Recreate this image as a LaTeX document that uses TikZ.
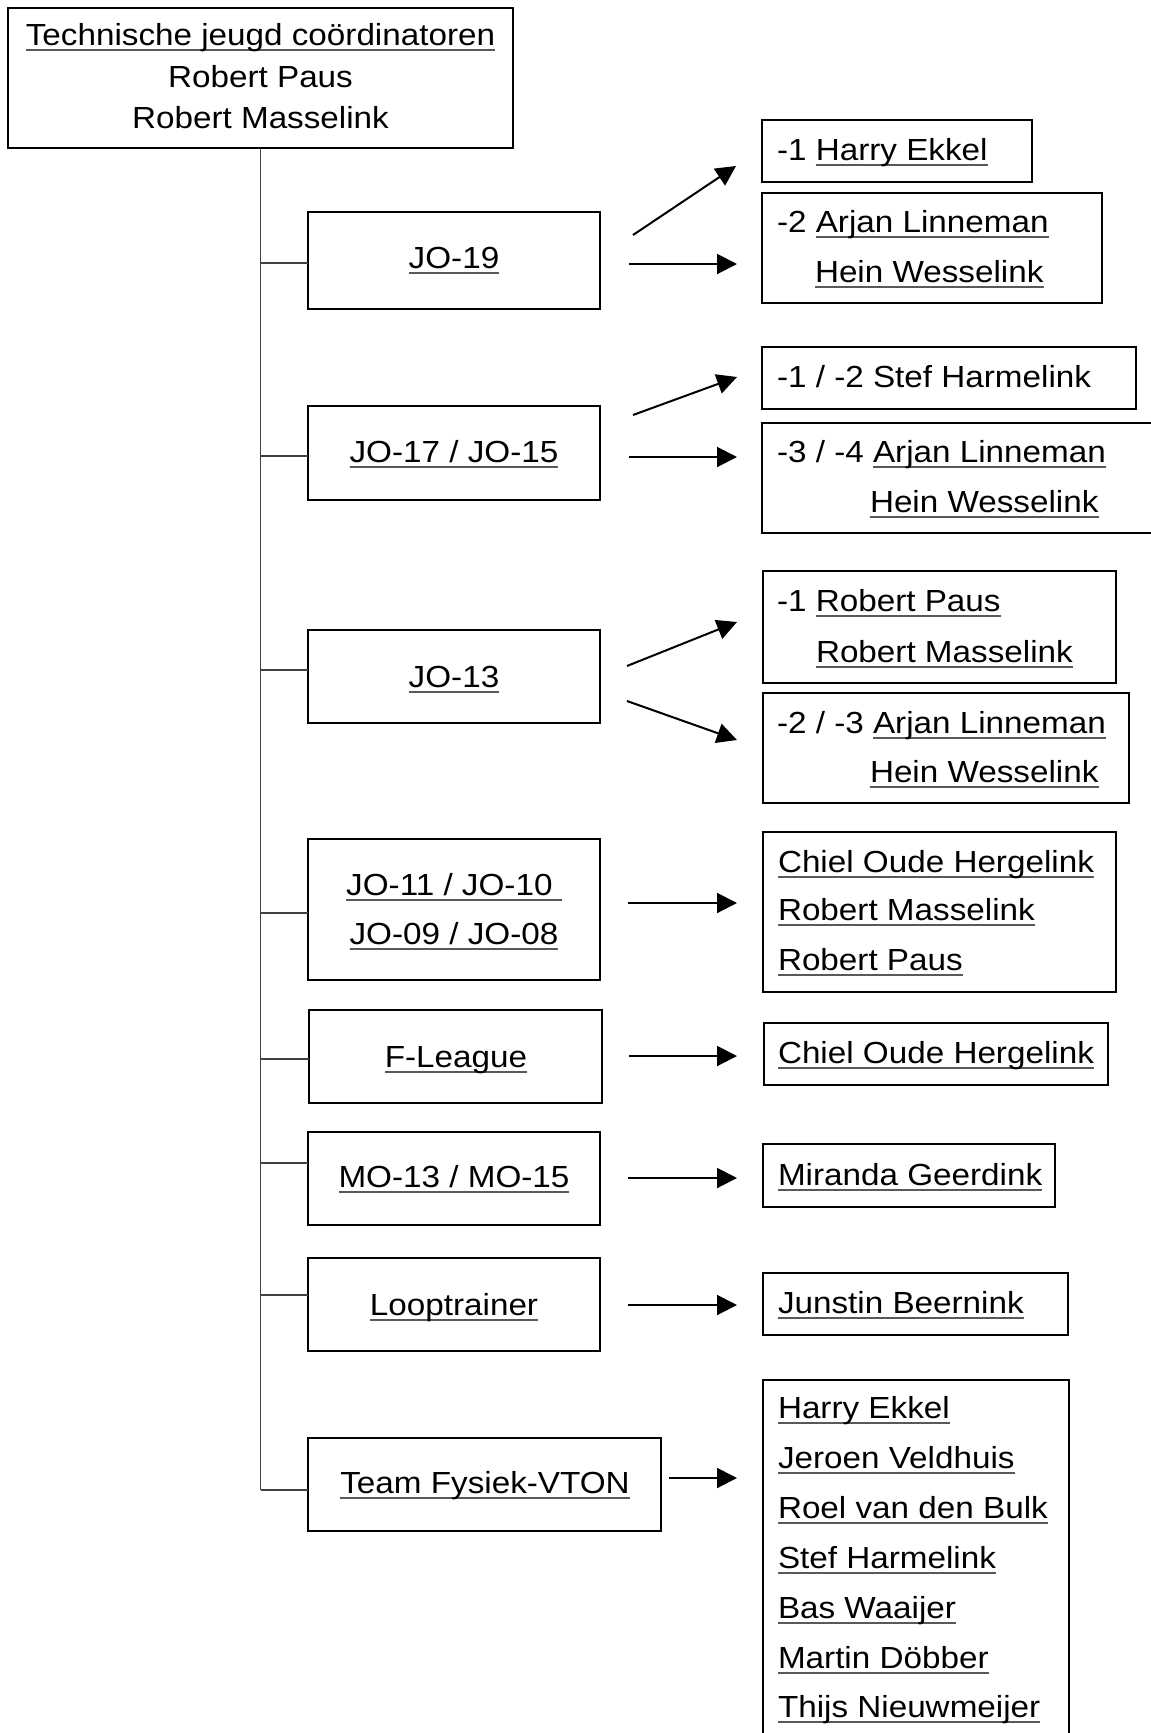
\documentclass[tikz,border=0pt]{standalone}
\usepackage{fontspec}
\setmainfont{Liberation Sans}[FakeStretch=1.09]
\usetikzlibrary{arrows.meta}
\definecolor{ulgray}{gray}{0.35}
\definecolor{linegray}{gray}{0.25}
\newsavebox\ulbox
\newcommand\ulin[1]{\sbox\ulbox{#1}\rlap{\textcolor{ulgray}{\rule[-6pt]{\wd\ulbox}{1.7pt}}}\usebox\ulbox}
\tikzset{
  box/.style={draw=black, line width=2pt, rectangle, inner sep=0pt, outer sep=0pt, anchor=north west},
  txt/.style={inner sep=0pt, outer sep=0pt, anchor=base west, font=\fontsize{30.5}{36}\selectfont},
  ctxt/.style={txt, anchor=base},
  trunk/.style={draw=linegray, line width=1.4pt},
  arr/.style={line width=2pt, -{Triangle[length=20pt,width=20pt]}},
}
\newcommand\bx[5]{\node[box, minimum width={#4-#2}, minimum height={#5-#3}] (#1) at (#2,#3) {};}
\begin{document}
\begin{tikzpicture}[x=1pt,y=-1pt]
\useasboundingbox (0,0) rectangle (1151,1733);
\fill[white] (0,0) rectangle (1151,1733);

% top box
\bx{top}{8}{8}{513}{148}
\node[ctxt] (t0a) at (260.5,45) {\ulin{Technische jeugd coördinatoren}};
\node[ctxt] (t0b) at (260.5,87) {Robert Paus};
\node[ctxt] (t0c) at (260.5,128) {Robert Masselink};

% group boxes
\bx{g1}{308}{212}{600}{309}
\node[ctxt] (l1) at (454,268) {\ulin{JO-19}};
\bx{g2}{308}{406}{600}{500}
\node[ctxt] (l2) at (454,462) {\ulin{JO-17 / JO-15}};
\bx{g3}{308}{630}{600}{723}
\node[ctxt] (l3) at (454,687) {\ulin{JO-13}};
\bx{g4}{308}{839}{600}{980}
\node[ctxt] (l4a) at (454,895) {\ulin{JO-11 / JO-10\ }};
\node[ctxt] (l4b) at (454,944) {\ulin{JO-09 / JO-08}};
\bx{g5}{309}{1010}{602}{1103}
\node[ctxt] (l5) at (456,1067) {\ulin{F-League}};
\bx{g6}{308}{1132}{600}{1225}
\node[ctxt] (l6) at (454,1187) {\ulin{MO-13 / MO-15}};
\bx{g7}{308}{1258}{600}{1351}
\node[ctxt] (l7) at (454,1315) {\ulin{Looptrainer}};
\bx{g8}{308}{1438}{661}{1531}
\node[ctxt] (l8) at (485,1493) {\ulin{Team Fysiek-VTON}};

% trunk and branches
\coordinate (b1) at (260.5,263);
\coordinate (b2) at (260.5,456);
\coordinate (b3) at (260.5,670);
\coordinate (b4) at (260.5,913);
\coordinate (b5) at (260.5,1059);
\coordinate (b6) at (260.5,1163);
\coordinate (b7) at (260.5,1295);
\coordinate (b8) at (260.5,1490);
\draw[trunk] (top.south) -- (b8);
\foreach \i in {1,...,8} {\draw[trunk] (b\i) -- (b\i -| g\i.west);}

% right boxes
\bx{r1}{762}{120}{1032}{182}
\node[txt] (r1a) at (777,160) {-1 \ulin{Harry Ekkel}};
\bx{r2}{762}{193}{1102}{303}
\node[txt] (r2a) at (777,232) {-2 \ulin{Arjan Linneman}};
\node[txt] (r2b) at (815,282) {\ulin{Hein Wesselink}};
\bx{r3}{762}{347}{1136}{409}
\node[txt] (r3a) at (777,387) {-1 / -2 Stef Harmelink};
\bx{r4}{762}{423}{1170}{533}
\node[txt] (r4a) at (777,462) {-3 / -4 \ulin{Arjan Linneman}};
\node[txt] (r4b) at (870,512) {\ulin{Hein Wesselink}};
\bx{r5}{763}{571}{1116}{683}
\node[txt] (r5a) at (777,611) {-1 \ulin{Robert Paus}};
\node[txt] (r5b) at (816,662) {\ulin{Robert Masselink}};
\bx{r6}{763}{693}{1129}{803}
\node[txt] (r6a) at (777,733) {-2 / -3 \ulin{Arjan Linneman}};
\node[txt] (r6b) at (870,782) {\ulin{Hein Wesselink}};
\bx{r7}{763}{832}{1116}{992}
\node[txt] (r7a) at (778,872) {\ulin{Chiel Oude Hergelink}};
\node[txt] (r7b) at (778,920) {\ulin{Robert Masselink}};
\node[txt] (r7c) at (778,970) {\ulin{Robert Paus}};
\bx{r8}{764}{1023}{1108}{1085}
\node[txt] (r8a) at (778,1063) {\ulin{Chiel Oude Hergelink}};
\bx{r9}{763}{1144}{1055}{1207}
\node[txt] (r9a) at (778,1185) {\ulin{Miranda Geerdink}};
\bx{r10}{763}{1273}{1068}{1335}
\node[txt] (r10a) at (778,1313) {\ulin{Junstin Beernink}};
\bx{r11}{763}{1380}{1069}{1760}
\node[txt] (r11a) at (778,1418) {\ulin{Harry Ekkel}};
\node[txt] (r11b) at (778,1468) {\ulin{Jeroen Veldhuis}};
\node[txt] (r11c) at (778,1518) {\ulin{Roel van den Bulk}};
\node[txt] (r11d) at (778,1568) {\ulin{Stef Harmelink}};
\node[txt] (r11e) at (778,1618) {\ulin{Bas Waaijer}};
\node[txt] (r11f) at (778,1668) {\ulin{Martin Döbber}};
\node[txt] (r11g) at (778,1717) {\ulin{Thijs Nieuwmeijer}};

% arrows
\coordinate (a1s) at (633,235);  \coordinate (a1e) at (736,166);
\coordinate (a2s) at (629,264);  \coordinate (a2e) at (737,264);
\coordinate (a3s) at (633,415);  \coordinate (a3e) at (737,377);
\coordinate (a4s) at (629,457);  \coordinate (a4e) at (737,457);
\coordinate (a5s) at (627,666);  \coordinate (a5e) at (737,622);
\coordinate (a6s) at (627,701);  \coordinate (a6e) at (737,740);
\coordinate (a7s) at (628,903);  \coordinate (a7e) at (737,903);
\coordinate (a8s) at (629,1056); \coordinate (a8e) at (737,1056);
\coordinate (a9s) at (628,1178); \coordinate (a9e) at (737,1178);
\coordinate (a10s) at (628,1305); \coordinate (a10e) at (737,1305);
\coordinate (a11s) at (669,1478); \coordinate (a11e) at (737,1478);
\foreach \i in {1,...,11} {\draw[arr] (a\i s) -- (a\i e);}
\end{tikzpicture}
\end{document}
